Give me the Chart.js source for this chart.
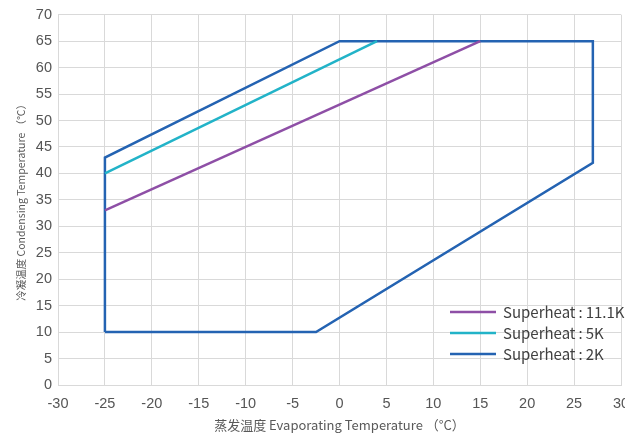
<!DOCTYPE html>
<html>
<head>
<meta charset="utf-8">
<script src="https://cdn.jsdelivr.net/npm/chart.js@4.4.1/dist/chart.umd.min.js"></script>
<style>
  html, body { margin: 0; padding: 0; background: #fff; overflow: hidden; }
  #wrap { width: 645px; height: 437px; }
</style>
</head>
<body>
<div id="wrap"><canvas id="myChart"></canvas></div>
<script>
// envelope points (evaporating temp, condensing temp)
const sh11X = [-25, 15];
const sh11Y = [33, 65];
const sh5X = [-25, 4];
const sh5Y = [40, 65];
const sh2X = [-25, -25, 0, 27, 27, -2.5, -25];
const sh2Y = [10, 43, 65, 65, 42, 10, 10];

const labels = ['Superheat\u2009:\u200911.1K', 'Superheat\u2009:\u20095K', 'Superheat\u2009:\u20092K'];
const colors = ['#8e4fa6', '#22b3c8', '#2463b2'];

function toPts(xs, ys) {
  return xs.map((x, i) => ({ x: x, y: ys[i] }));
}

// legend drawn inside the plot, lower right
const innerLegend = {
  id: 'innerLegend',
  afterDraw(chart) {
    const ctx = chart.ctx;
    const area = chart.chartArea;
    ctx.save();
    ctx.font = '15px "Noto Sans CJK SC", "Noto Sans", sans-serif';
    ctx.textBaseline = 'middle';
    chart.data.datasets.forEach((ds, i) => {
      const y = area.bottom - 73 + i * 21;
      const x = area.left + 392;
      ctx.strokeStyle = ds.borderColor;
      ctx.lineWidth = 2.5;
      ctx.beginPath();
      ctx.moveTo(x, y);
      ctx.lineTo(x + 46, y);
      ctx.stroke();
      ctx.fillStyle = '#404040';
      ctx.fillText(ds.label, x + 53, y);
    });
    ctx.restore();
  }
};

const tickFont = { family: 'Liberation Sans', size: 14.5 };

const ctx1 = document.getElementById('myChart');
new Chart(ctx1, {
  type: 'scatter',
  data: {
    datasets: [
      { label: labels[0], data: toPts(sh11X, sh11Y), borderColor: colors[0] },
      { label: labels[1], data: toPts(sh5X, sh5Y), borderColor: colors[1] },
      { label: labels[2], data: toPts(sh2X, sh2Y), borderColor: colors[2] }
    ].map(d => Object.assign(d, {
      showLine: true, pointRadius: 0, borderWidth: 2.5, fill: false,
      borderJoinStyle: 'miter', tension: 0
    }))
  },
  options: {
    responsive: true,
    maintainAspectRatio: false,
    animation: false,
    layout: { padding: { top: 10, right: 24 } },
    plugins: { legend: { display: false }, tooltip: { enabled: false } },
    scales: {
      x: {
        min: -30, max: 30,
        ticks: { stepSize: 5, color: '#555555', font: tickFont, padding: 10 },
        grid: { color: '#d9d9d9', drawTicks: false },
        border: { color: '#d9d9d9' },
        title: {
          display: true, text: '蒸发温度 Evaporating Temperature （°C）', color: '#595959',
          font: { family: '"Noto Sans CJK SC"', size: 13 }, padding: { top: 0 }
        },
        afterFit: (s) => { s.height = 52; }
      },
      y: {
        min: 0, max: 70,
        ticks: { stepSize: 5, color: '#555555', font: tickFont, padding: 6 },
        grid: { color: '#d9d9d9', drawTicks: false },
        border: { color: '#d9d9d9' },
        title: {
          display: true, text: '冷凝温度 Condensing Temperature （℃）', color: '#595959',
          font: { family: '"Noto Sans CJK SC"', size: 10.5 }, padding: { top: 15, bottom: 0 }
        },
        afterFit: (s) => { s.width = 58; }
      }
    }
  },
  plugins: [innerLegend]
});
</script>
</body>
</html>
